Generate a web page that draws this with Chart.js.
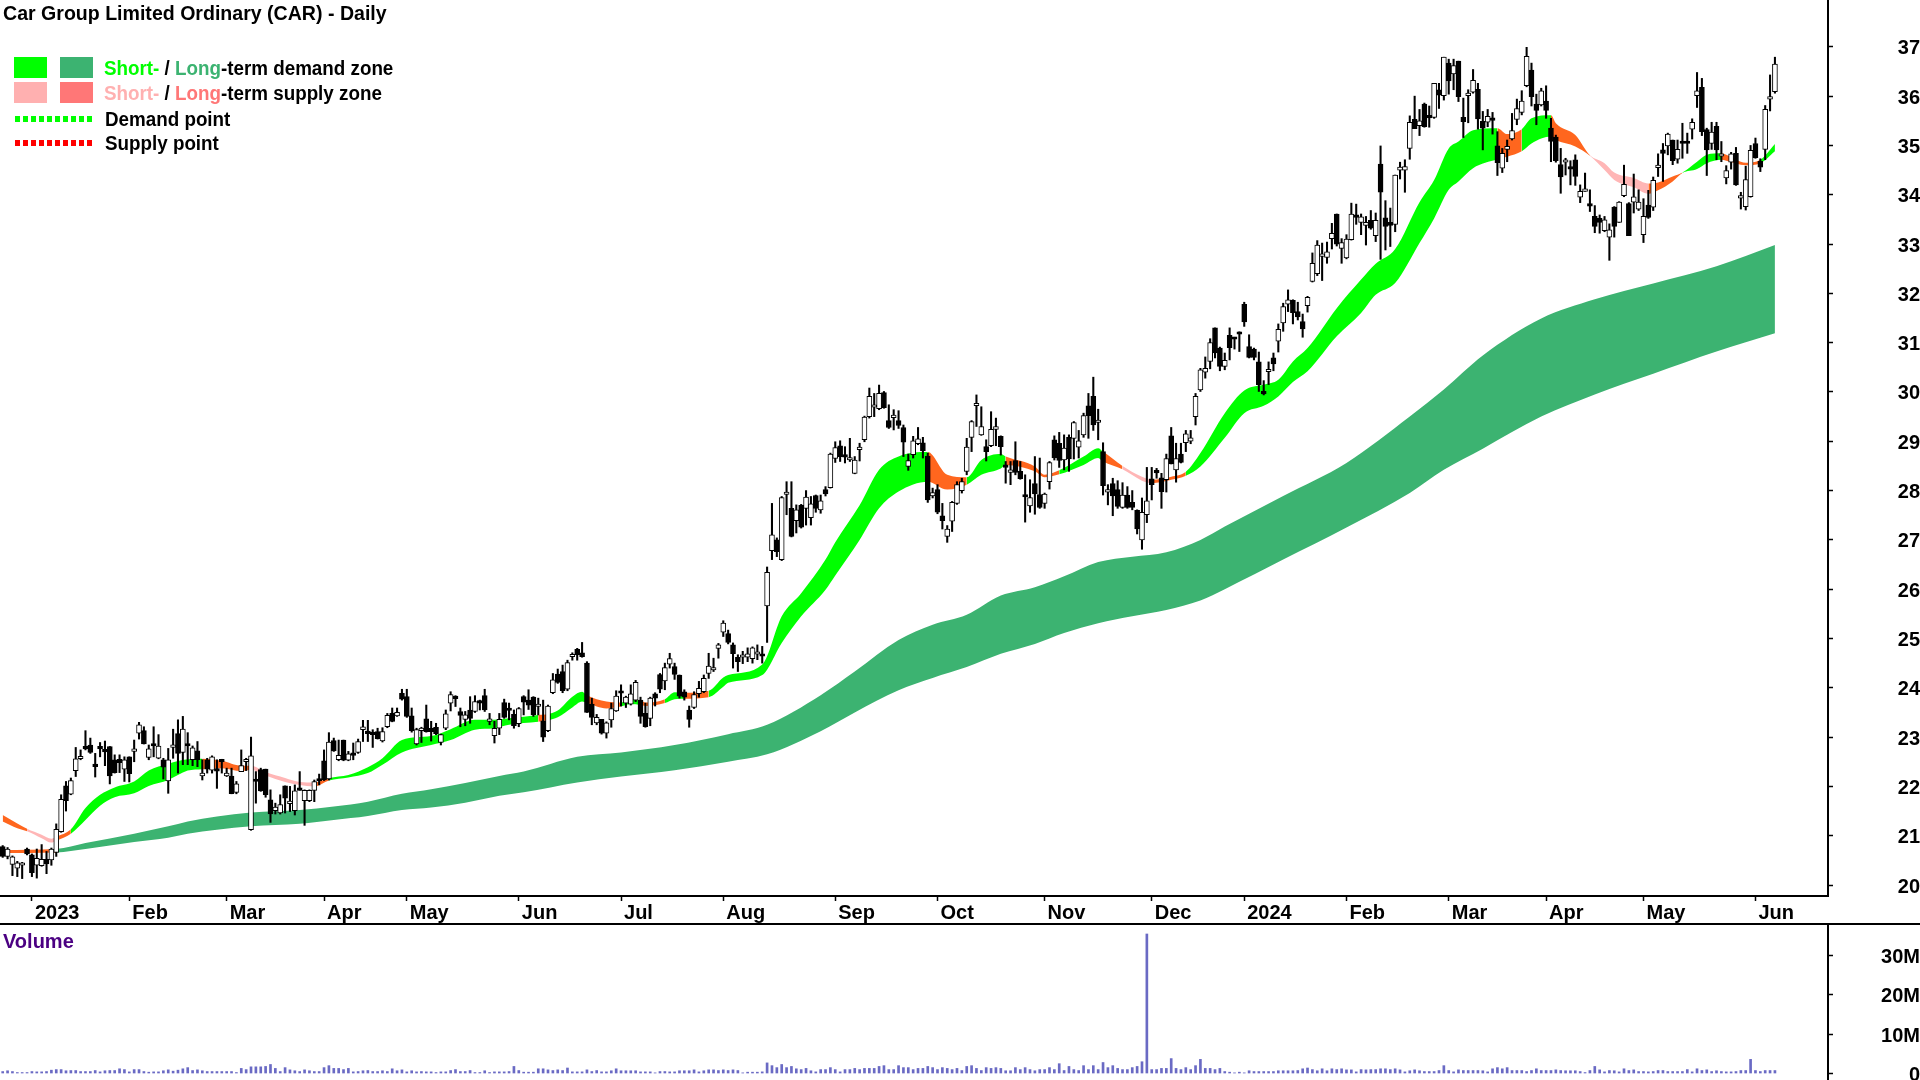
<!DOCTYPE html>
<html lang="en">
<head>
<meta charset="UTF-8">
<title>Car Group Limited Ordinary (CAR) - Daily</title>
<script src="https://cdn.jsdelivr.net/npm/chart.js"></script>
<style>
  html, body { margin: 0; padding: 0; background: #fff; }
  body { width: 1920px; height: 1080px; position: relative; overflow: hidden; font-family: "Liberation Sans", Arial, sans-serif; font-weight: bold; color: #000; }
  canvas { position: absolute; left: 0; display: block; }
  #priceChart { top: 0; }
  #volumeChart { top: 924px; }
  #rule { position: absolute; left: 0; top: 923px; width: 1920px; height: 2px; background: #000; }
  .txt { position: absolute; font-size: 20px; line-height: 24px; white-space: nowrap; transform-origin: left center; }
  .leg { transform: scaleX(.94); }
  .swatch { position: absolute; width: 33px; height: 21px; }
  .dots { position: absolute; left: 15px; width: 78px; height: 6px; }
</style>
</head>
<body>
<canvas id="priceChart" width="1920" height="924"></canvas>
<canvas id="volumeChart" width="1920" height="156"></canvas>
<div id="rule"></div>

<div class="txt" style="left:3px;top:1px;transform:scaleX(.978)">Car Group Limited Ordinary (CAR) - Daily</div>

<!-- Legend -->
<div class="swatch" style="left:14px;top:57px;background:#00ff00"></div>
<div class="swatch" style="left:60px;top:57px;background:#3cb371"></div>
<div class="swatch" style="left:14px;top:82px;background:#ffb0b0"></div>
<div class="swatch" style="left:60px;top:82px;background:#ff7777"></div>
<div class="dots" style="top:116px;background:repeating-linear-gradient(90deg,#00ff00 0 5px,transparent 5px 8px)"></div>
<div class="dots" style="top:140px;background:repeating-linear-gradient(90deg,#ff0000 0 5px,transparent 5px 8px)"></div>
<div class="txt leg" style="left:104px;top:56px"><span style="color:#00ff00">Short-</span> / <span style="color:#3cb371">Long</span>-term demand zone</div>
<div class="txt leg" style="left:104px;top:81px"><span style="color:#ffb0b0">Short-</span> / <span style="color:#ff7777">Long</span>-term supply zone</div>
<div class="txt leg" style="left:105px;top:107px">Demand point</div>
<div class="txt leg" style="left:105px;top:131px">Supply point</div>

<div class="txt" style="left:3px;top:929px;color:#4b0082">Volume</div>

<script>
  const opens = [
    20.78,20.58,20.42,20.34,20.40,20.73,20.61,20.40,20.39,20.52,
    20.51,20.66,21.08,22.01,21.84,22.32,22.56,22.80,22.84,22.42,
    22.78,22.72,22.81,22.54,22.55,22.35,22.60,22.71,23.08,23.13,
    22.59,22.86,22.57,22.54,22.11,22.79,23.07,22.69,22.84,22.54,
    22.72,22.21,22.54,22.33,22.34,22.52,22.21,22.21,21.88,22.30,
    22.50,21.12,22.12,22.34,22.35,21.73,21.51,21.46,22.01,21.65,
    21.51,21.94,21.71,21.71,21.92,22.13,22.52,22.15,22.93,22.54,
    22.94,22.53,22.65,22.69,23.15,23.08,23.07,23.11,22.92,23.21,
    23.48,23.43,23.89,23.82,23.43,22.86,23.13,23.37,23.18,23.20,
    22.89,23.18,23.69,23.80,23.52,23.36,23.55,23.52,23.72,23.84,
    23.32,23.03,23.18,23.70,23.55,23.46,23.27,23.82,23.75,23.81,
    23.62,23.33,23.13,23.90,24.28,24.33,23.97,24.63,24.78,24.71,
    24.50,23.67,23.29,23.36,23.08,23.35,23.53,23.91,23.69,23.67,
    23.75,23.75,23.48,23.38,23.88,24.27,24.14,24.48,24.43,24.26,
    23.92,23.55,23.60,23.88,23.92,24.29,24.36,24.80,25.13,25.10,
    24.87,24.62,24.62,24.62,24.59,24.68,24.66,25.66,26.78,27.00,
    26.60,27.92,27.64,27.39,27.70,27.64,27.45,27.90,27.61,28.02,
    28.06,28.65,28.91,28.70,28.62,28.35,28.83,29.03,29.50,29.69,
    29.66,29.99,29.42,29.48,29.42,29.28,28.49,28.73,28.95,28.97,
    28.70,27.89,28.02,27.49,27.07,27.38,27.74,28.00,28.39,29.08,
    29.72,29.13,28.89,28.91,29.24,29.10,28.49,28.37,28.61,28.39,
    27.91,27.69,28.14,27.92,27.74,28.18,29.03,28.96,28.62,29.08,
    29.06,28.88,29.13,29.72,29.91,29.38,28.79,27.97,28.14,28.02,
    27.66,27.91,27.76,27.60,27.00,27.51,28.24,28.38,28.26,28.22,
    29.11,28.42,28.74,28.97,29.00,29.50,30.04,30.40,30.62,31.30,
    30.89,30.52,31.15,31.11,31.21,31.78,30.92,30.87,30.61,29.99,
    30.41,30.69,31.03,31.40,31.78,31.86,31.63,31.43,31.75,32.24,
    32.40,32.75,32.73,33.11,33.61,32.91,32.72,33.09,33.56,33.44,
    33.38,33.48,33.17,34.62,33.53,33.44,33.40,34.50,34.50,34.94,
    35.53,35.40,35.84,35.57,35.57,36.13,36.01,36.67,36.45,36.71,
    35.57,36.01,36.08,36.14,35.49,35.47,35.53,34.99,34.54,34.92,
    35.13,35.53,35.67,36.21,36.53,35.84,35.82,35.90,35.35,35.17,
    34.61,34.66,34.56,34.71,33.95,34.07,33.78,33.56,33.52,33.27,
    33.14,33.75,33.44,33.98,33.82,33.85,33.71,33.19,33.79,33.75,
    34.55,34.91,34.99,35.11,34.72,35.06,35.06,35.33,36.01,36.18,
    35.32,35.04,35.39,34.78,34.34,34.66,34.84,33.93,33.76,33.96,
    35.04,34.68,34.92,35.94,36.09
  ];
  const highs = [
    20.80,20.76,20.59,20.48,20.46,20.75,20.63,20.73,20.82,20.68,
    20.75,21.24,21.83,22.10,22.17,22.79,22.74,23.13,22.98,22.67,
    22.89,22.92,22.81,22.64,22.64,22.60,22.60,22.94,23.30,23.21,
    22.84,23.21,23.05,22.57,22.77,23.16,23.35,23.42,23.09,22.82,
    22.91,22.54,22.57,22.62,22.54,22.55,22.37,22.37,22.10,22.74,
    22.57,23.00,22.30,22.37,22.35,21.93,21.66,21.83,22.01,22.00,
    22.03,22.30,21.93,21.93,22.13,22.25,22.74,23.09,22.98,22.94,
    22.94,22.71,22.88,22.96,23.34,23.34,23.15,23.18,23.19,23.48,
    23.59,23.59,23.97,23.97,23.59,23.18,23.20,23.65,23.32,23.28,
    23.06,23.55,23.92,23.84,23.59,23.52,23.82,23.84,23.75,23.97,
    23.48,23.32,23.48,23.77,23.69,23.55,23.60,23.84,23.96,23.82,
    23.79,23.75,23.65,24.29,24.38,24.46,24.56,24.71,24.80,24.92,
    24.53,23.79,23.46,23.36,23.31,23.69,23.94,24.06,23.83,24.06,
    24.15,23.81,23.69,23.81,23.90,24.29,24.50,24.70,24.50,24.26,
    23.96,23.63,23.92,24.13,24.26,24.70,24.60,24.90,25.36,25.17,
    24.91,24.67,24.74,24.81,24.83,24.87,24.84,26.45,27.74,27.04,
    27.88,28.18,28.18,27.71,27.72,28.00,27.88,27.91,27.91,28.08,
    28.76,28.99,29.01,28.89,29.06,28.69,28.96,29.51,30.08,29.97,
    30.14,30.01,29.74,29.64,29.62,29.33,28.74,29.10,29.28,29.08,
    28.76,28.05,28.12,27.74,27.29,27.78,28.18,28.25,29.06,29.42,
    29.94,29.70,29.03,29.60,29.47,29.11,28.59,28.59,28.99,28.59,
    28.32,28.22,28.69,28.66,27.95,28.59,29.11,29.18,29.13,29.13,
    29.40,29.22,29.57,29.97,30.30,29.65,28.97,28.12,28.25,28.20,
    28.16,28.08,28.00,27.61,27.85,28.47,28.47,28.45,28.35,28.74,
    29.28,28.96,28.96,29.22,29.22,29.97,30.48,30.71,31.08,31.30,
    30.91,30.79,31.30,31.11,31.22,31.82,31.16,30.89,30.81,30.23,
    30.61,30.79,31.38,31.80,32.07,31.87,31.82,31.58,31.94,32.82,
    33.07,33.02,33.04,33.42,33.61,33.11,33.19,33.83,33.81,33.61,
    33.56,33.68,33.63,34.99,33.88,33.73,34.40,34.66,34.71,35.60,
    36.00,35.73,35.86,35.80,36.26,36.26,36.79,36.75,36.75,36.71,
    35.96,36.13,36.54,36.26,35.69,35.73,35.67,35.28,34.94,35.11,
    35.65,35.94,36.11,36.99,36.67,36.04,36.16,36.21,35.55,35.21,
    34.94,34.74,34.69,34.81,34.20,34.44,34.10,33.78,33.59,33.56,
    33.41,33.76,33.86,34.60,33.84,34.42,34.10,33.92,34.09,34.36,
    34.83,35.04,35.25,35.11,35.11,35.45,35.25,35.54,36.48,36.36,
    35.35,35.47,35.47,35.08,34.59,34.86,34.96,34.05,34.58,35.00,
    35.15,34.73,35.81,36.43,36.79
  ];
  const lows = [
    20.56,20.53,20.19,20.17,20.13,20.61,20.17,20.14,20.38,20.23,
    20.40,20.58,21.07,21.50,21.83,22.20,22.54,22.74,22.67,22.19,
    22.60,22.42,22.05,22.27,22.28,22.10,22.09,22.50,22.96,22.86,
    22.54,22.60,22.56,22.15,21.86,22.57,22.27,22.44,22.44,22.42,
    22.40,22.13,22.27,22.27,21.96,22.27,22.20,21.85,21.85,22.30,
    22.32,21.11,21.66,21.90,21.78,21.27,21.44,21.44,21.46,21.49,
    21.42,21.92,21.21,21.69,21.69,22.03,22.12,22.13,22.71,22.52,
    22.52,22.52,22.54,22.67,22.91,22.91,22.79,22.96,22.90,23.19,
    23.31,23.42,23.75,23.40,23.10,22.84,22.89,23.10,22.92,23.05,
    22.84,23.15,23.53,23.62,23.21,23.23,23.28,23.50,23.55,23.52,
    23.25,22.88,23.05,23.38,23.35,23.18,23.21,23.45,23.56,23.42,
    23.45,22.91,23.11,23.88,24.09,23.90,23.94,24.56,24.56,24.62,
    23.50,23.25,23.25,23.06,22.98,23.20,23.52,23.63,23.60,23.65,
    23.72,23.28,23.20,23.23,23.63,23.90,23.96,24.40,24.17,23.79,
    23.75,23.20,23.58,23.81,23.90,24.19,24.33,24.60,25.04,24.89,
    24.40,24.33,24.49,24.53,24.50,24.57,24.50,24.92,26.60,26.66,
    26.58,27.51,27.06,27.14,27.24,27.30,27.30,27.56,27.54,27.89,
    28.05,28.57,28.59,28.56,28.59,28.34,28.60,28.99,29.47,29.50,
    29.64,29.67,29.26,29.23,29.26,28.69,28.41,28.66,28.93,28.66,
    27.76,27.85,27.53,27.22,26.95,27.17,27.72,27.95,28.32,28.79,
    29.30,29.12,28.60,28.89,28.91,28.72,28.15,28.12,28.32,28.23,
    27.36,27.56,27.52,27.64,27.64,28.03,28.62,28.47,28.42,28.39,
    28.64,28.66,29.08,29.06,29.22,29.03,27.91,27.71,27.49,27.64,
    27.64,27.64,27.61,27.12,26.81,27.35,27.81,28.25,27.64,27.97,
    28.54,28.17,28.56,28.79,28.95,29.33,30.01,30.28,30.47,30.69,
    30.43,30.45,30.65,30.87,30.82,31.33,30.69,30.65,30.01,29.94,
    30.15,30.43,30.81,31.23,31.63,31.38,31.46,31.11,31.62,32.23,
    32.36,32.26,32.61,32.90,32.96,32.61,32.70,33.08,33.40,33.19,
    32.98,33.30,33.05,32.69,32.88,32.95,33.25,34.32,34.05,34.72,
    35.34,35.20,35.37,35.37,35.55,35.75,35.92,36.04,36.13,35.89,
    35.16,35.46,36.06,35.33,34.91,35.38,35.23,34.39,34.45,34.67,
    35.11,35.42,35.62,36.19,35.80,35.42,35.80,35.55,34.67,34.66,
    34.03,34.40,34.20,34.19,33.84,34.07,33.66,33.23,33.22,33.25,
    32.67,33.14,33.44,33.96,33.17,33.63,33.68,33.03,33.52,33.68,
    34.37,34.27,34.81,34.61,34.64,34.74,34.84,35.13,35.77,35.20,
    34.39,34.92,34.71,34.67,34.22,34.52,34.19,33.71,33.69,33.95,
    34.74,34.47,34.71,35.70,36.06
  ];
  const closes = [
    20.58,20.73,20.57,20.45,20.44,20.63,20.25,20.54,20.52,20.43,
    20.73,21.13,21.74,21.71,22.12,22.56,22.60,22.76,22.69,22.40,
    22.76,22.70,22.21,22.28,22.48,22.54,22.26,22.73,23.25,22.86,
    22.76,22.82,22.82,22.39,22.54,22.81,22.67,23.16,22.82,22.78,
    22.54,22.27,22.35,22.60,22.31,22.50,22.27,21.85,22.05,22.42,
    22.52,22.62,22.10,21.91,21.83,21.44,21.58,21.63,21.76,21.69,
    21.91,21.92,21.92,21.92,22.10,22.11,22.13,22.90,22.72,22.63,
    22.53,22.66,22.63,22.91,23.21,23.07,23.05,22.97,23.11,23.44,
    23.32,23.50,23.77,23.42,23.13,23.15,23.18,23.11,23.11,23.07,
    23.05,23.47,23.86,23.78,23.44,23.45,23.38,23.72,23.69,23.55,
    23.36,23.18,23.36,23.40,23.54,23.23,23.58,23.71,23.65,23.45,
    23.67,23.00,23.63,24.16,24.11,23.94,24.51,24.68,24.67,24.63,
    23.50,23.40,23.40,23.08,23.29,23.58,23.83,23.89,23.81,23.88,
    24.11,23.42,23.21,23.79,23.79,23.97,24.41,24.59,24.27,23.83,
    23.81,23.36,23.86,23.99,24.19,24.44,24.41,24.87,25.31,24.92,
    24.69,24.53,24.66,24.69,24.81,24.72,24.64,26.34,27.10,26.76,
    27.86,27.95,27.07,27.61,27.26,27.87,27.73,27.64,27.79,27.93,
    28.74,28.87,28.69,28.68,28.66,28.62,28.85,29.49,29.91,29.74,
    29.97,29.68,29.28,29.52,29.32,28.98,28.61,29.01,29.05,28.81,
    27.81,27.96,27.56,27.39,27.22,27.76,28.12,28.18,28.88,29.40,
    29.74,29.30,28.79,29.24,29.30,28.89,28.47,28.42,28.37,28.24,
    27.87,27.86,27.93,27.66,27.93,28.57,28.66,28.61,28.86,28.64,
    29.38,29.01,29.52,29.52,29.33,29.39,28.10,28.02,27.89,27.68,
    27.91,27.66,27.66,27.22,27.56,27.79,28.12,28.36,27.98,28.65,
    28.54,28.65,28.57,29.15,29.07,29.91,30.45,30.48,31.00,30.79,
    30.52,30.64,30.90,31.07,31.17,31.42,30.70,30.70,30.15,29.96,
    30.42,30.57,31.27,31.73,31.87,31.61,31.52,31.28,31.92,32.61,
    32.98,32.76,32.84,33.22,33.00,33.03,33.10,33.61,33.54,33.55,
    33.44,33.32,33.48,34.05,33.36,33.38,34.40,34.56,34.57,35.47,
    35.34,35.50,35.38,35.56,36.26,36.02,36.79,36.31,36.62,35.99,
    35.48,36.02,36.32,35.54,35.35,35.59,35.51,34.65,34.84,34.98,
    35.30,35.75,35.90,36.81,35.99,35.71,36.11,35.71,35.08,34.69,
    34.36,34.68,34.52,34.37,34.07,34.08,33.77,33.36,33.44,33.49,
    33.29,33.36,33.85,34.21,33.17,33.96,33.85,33.56,33.54,34.29,
    34.56,34.84,35.23,34.69,34.92,35.04,35.04,35.47,36.11,35.28,
    34.91,35.27,34.91,34.79,34.49,34.83,34.20,33.98,34.31,34.90,
    34.75,34.56,35.73,35.98,36.65
  ];
  const volumes = [
    .5,.7,.5,.25,.25,.25,.5,.42,.42,.5,.85,1,1,.7,.76,.76,.5,.5,.5,.76,
    .42,.7,.76,.76,1.2,1,.42,1,1,.5,.34,.42,.42,.7,.93,.6,.85,1.2,1.5,.76,
    .93,.7,.5,.5,.5,.5,.5,.5,.25,1.3,1,1.7,1.7,1.7,1.8,2.3,1.3,.5,1.5,.93,
    .7,.5,.93,.7,.5,.5,1.5,2,1.3,1.3,1,1.3,.42,.5,.7,.76,.5,.5,.7,.5,
    1.2,.7,.93,.42,.7,.42,.5,.42,.42,.25,.42,.42,.76,1,.5,.5,.76,.25,.25,.7,
    .25,.42,.42,.42,.5,1.8,.76,
    .34,.34,.34,1.2,1.2,.93,.76,.93,.76,1.4,.42,.42,.42,.93,.5,.76,.42,.42,.7,1.2,
    .7,.7,.7,.7,.42,.42,.42,.17,.5,.5,.42,.42,.7,.7,.7,.93,.42,.7,.93,.93,
    .76,.93,.76,.93,.76,.17,.34,.34,.34,.42,2.7,2,1.5,2.3,1.5,1.8,1.2,1,1.3,.7,
    .42,1,1,1.5,1,.42,1,1,1.3,1,1.3,1.3,1.3,1.8,2,1,1,2,1.5,1.5,
    1,1.3,1.3,1.8,1.5,1,1.5,1.3,1,1.3,.76,1.8,2,1.3,.76,1.5,1.3,1.5,1.3,.7,
    .7,1.5,1,1.5,1,.7,
    1,1,1.5,1,2.5,.76,1.8,1,.76,2,1,2,1,2.8,1.5,2,1.3,1,1,1.5,1.8,3,35.5,
    1,1,1.3,1.3,3.8,1.3,1,1.5,1,2,3.6,1.3,1.3,1,1.3,.5,.34,.17,.34,.17,
    .7,.5,.5,.5,.5,.5,.7,.7,.7,.7,.76,1.2,1.4,1,.7,1.2,.7,1.2,1,1.2,
    .93,.93,.42,1,.93,1,1,1.2,1.2,1,1.2,.93,.42,.7,.93,.7,.5,.5,.5,.76,
    2,.76,.42,.93,.76,.76,.76,.76,.7,.42,1.2,1.5,1.2,1.5,.76,.76,.76,.5,.76,1.2,
    .76,.76,.76,.93,.76,
    .7,.7,.7,.5,.25,.76,1.8,.93,.42,.76,.7,.42,1.2,.76,.93,.5,.5,.42,.5,.76,
    .76,.5,.5,.5,.5,1,.42,1.2,.76,.93,.5,.7,.5,.42,.42,.5,.76,.76,3.6,.76,
    .5,.76,.76,.76
  ];

  const priceTicks = [20,21,22,23,24,25,26,27,28,29,30,31,32,33,34,35,36,37];
  const volumeTicks = [0,10,20,30];
  const monthBars = [6,26,46,66,83,106,127,148,171,192,214,236,255,276,297,317,337,360];
  const monthLabels = ['2023','Feb','Mar','Apr','May','Jun','Jul','Aug','Sep','Oct','Nov','Dec','2024','Feb','Mar','Apr','May','Jun'];

  // long-term zone, read at these bars
  const longBars   = [0,11,17,27,34,38,44,51,61,68,75,82,88,95,102,107,118,127,138,149,157,168,175,184,191,198,205,212,218,225,232,239,246,251,263,276,289,296,304,316,327,339,352,364];
  const longTop    = [20.71,20.73,20.85,21.04,21.19,21.29,21.39,21.47,21.52,21.59,21.69,21.85,21.94,22.07,22.21,22.30,22.60,22.69,22.84,23.06,23.25,23.85,24.33,24.97,25.28,25.48,25.87,26.04,26.26,26.55,26.66,26.75,27.00,27.27,27.89,28.56,29.50,30.05,30.74,31.49,31.88,32.20,32.55,32.98];
  const longBottom = [20.65,20.66,20.73,20.87,20.96,21.04,21.12,21.19,21.24,21.32,21.40,21.52,21.57,21.67,21.81,21.88,22.08,22.20,22.33,22.50,22.65,23.12,23.50,23.95,24.20,24.42,24.69,24.89,25.11,25.31,25.45,25.58,25.77,26.00,26.60,27.25,27.95,28.42,28.85,29.50,29.95,30.37,30.82,31.19];
  const longState  = ['o','g','g','g','g','g','g','g','g','g','g','g','g','g','g','g','g','g','g','g','g','g','g','g','g','g','g','g','g','g','g','g','g','g','g','g','g','g','g','g','g','g','g','g'];

  // short-term zone, read at these bars
  const shortBars   = [0,3,5,8,10,11,14,17,20,23,27,30,34,38,41,45,49,51,54,58,61,64,67,71,75,78,82,88,92,97,101,104,110,112,114,117,119,120,124,127,129,131,132,136,138,140,145,148,149,156,160,164,169,171,176,180,184,190,194,198,201,205,206,212,214,217,222,225,226,230,234,236,240,243,246,251,255,259,262,265,268,274,279,282,286,291,294,297,299,302,307,309,312,314,318,319,323,326,329,331,335,338,340,343,345,348,350,353,354,358,361,364];
  const shortTop    = [21.42,21.25,21.14,21.02,20.94,20.98,21.13,21.56,21.83,21.98,22.10,22.32,22.46,22.55,22.56,22.52,22.42,22.42,22.29,22.17,22.09,22.08,22.17,22.23,22.39,22.57,22.94,23.02,23.16,23.35,23.35,23.38,23.45,23.47,23.54,23.82,23.92,23.85,23.72,23.70,23.75,23.74,23.70,23.77,23.91,23.90,23.94,24.21,24.26,24.47,25.45,25.92,26.60,26.95,27.70,28.42,28.69,28.78,28.32,28.27,28.62,28.74,28.69,28.49,28.32,28.41,28.69,28.86,28.79,28.50,28.28,28.22,28.28,28.38,28.76,29.57,30.03,30.15,30.25,30.62,30.89,31.70,32.28,32.60,32.90,33.85,34.30,34.94,35.08,35.31,35.35,35.23,35.33,35.55,35.61,35.45,35.21,34.80,34.64,34.45,34.34,34.23,34.25,34.37,34.45,34.67,34.81,34.84,34.81,34.65,34.71,35.03];
  const shortBottom = [21.29,21.15,21.09,20.95,20.86,20.90,21.04,21.32,21.61,21.78,21.86,22.01,22.13,22.32,22.35,22.37,22.31,22.34,22.22,22.09,22.03,22.00,22.12,22.18,22.27,22.44,22.69,22.84,22.94,23.15,23.18,23.25,23.31,23.34,23.40,23.60,23.72,23.69,23.58,23.62,23.67,23.65,23.63,23.69,23.77,23.78,23.81,24.02,24.10,24.26,24.91,25.45,25.99,26.28,27.00,27.64,27.98,28.18,28.02,28.12,28.32,28.45,28.52,28.39,28.27,28.33,28.52,28.66,28.59,28.43,28.20,28.15,28.22,28.30,28.49,29.07,29.57,29.72,29.91,30.20,30.42,31.13,31.60,31.97,32.21,33.02,33.52,34.10,34.27,34.54,34.72,34.77,34.88,35.04,35.18,35.11,34.98,34.79,34.50,34.30,34.15,34.02,34.09,34.27,34.44,34.52,34.64,34.71,34.69,34.60,34.64,34.88];
  const shortState  = ['o','o','p','p','p','o','g','g','g','g','g','g','g','g','o','o','o','p','p','p','p','o','g','g','g','g','g','g','g','g','g','g','o','g','g','g','g','o','o','g','g','o','o','g','g','o','g','g','g','g','g','g','g','g','g','g','g','o','o','g','g','g','o','o','o','g','g','g','o','p','p','o','o','g','g','g','g','g','g','g','g','g','g','g','g','g','g','g','g','g','o','o','g','g','o','o','o','p','p','p','p','o','o','o','g','g','g','o','o','o','g','g'];

  const stateColors = { g: '#00ff00', o: '#ff661e', p: '#ffb6b6' };
  const longColors = { g: '#3cb371', o: '#ff661e' };

  const barIndex = opens.map((_, i) => i);
  const tickFont = { family: '"Liberation Sans", Arial, sans-serif', size: 20, weight: 'bold' };

  function zoneLine(bars, values, extra) {
    return Object.assign({
      type: 'line',
      data: bars.map((b, i) => ({ x: b, y: values[i] })),
      borderColor: 'transparent',
      borderWidth: 0,
      pointRadius: 0,
      cubicInterpolationMode: 'monotone'
    }, extra);
  }

  // keep the plot flush with the canvas edges, whatever the labels want
  function noPadding(scale) {
    scale.paddingTop = scale.paddingBottom = scale.paddingLeft = scale.paddingRight = 0;
  }

  new Chart(document.getElementById('priceChart'), {
    type: 'bar',
    data: {
      datasets: [
        zoneLine(longBars, longTop, {
          order: 6,
          fill: 1,
          backgroundColor: longColors.g,
          segment: { backgroundColor: ctx => longColors[longState[ctx.p0DataIndex]] }
        }),
        zoneLine(longBars, longBottom, { order: 7, fill: false }),
        zoneLine(shortBars, shortTop, {
          order: 4,
          fill: 3,
          backgroundColor: stateColors.g,
          segment: { backgroundColor: ctx => stateColors[shortState[ctx.p0DataIndex]] }
        }),
        zoneLine(shortBars, shortBottom, { order: 5, fill: false }),
        {
          // wicks
          order: 2,
          grouped: false,
          barThickness: 1.4,
          backgroundColor: '#000',
          data: barIndex.map(i => ({ x: i, y: [lows[i], highs[i]] }))
        },
        {
          // candle bodies
          order: 1,
          grouped: false,
          barThickness: 5,
          minBarLength: 2.5,
          borderColor: '#000',
          borderWidth: 1,
          borderSkipped: false,
          backgroundColor: barIndex.map(i => closes[i] >= opens[i] ? '#fff' : '#000'),
          data: barIndex.map(i => ({ x: i, y: [opens[i], closes[i]] }))
        }
      ]
    },
    options: {
      responsive: false,
      animation: false,
      layout: { padding: 0 },
      plugins: { legend: { display: false }, tooltip: { enabled: false } },
      scales: {
        x: {
          type: 'linear',
          offset: false,
          min: -0.555,
          max: 374.9,
          afterBuildTicks: s => { s.ticks = monthBars.map(v => ({ value: v })); },
          afterFit: s => { s.height = 28; noPadding(s); },
          border: { color: '#000', width: 2 },
          grid: { offset: false, drawOnChartArea: false, drawTicks: true, tickLength: 5, tickColor: '#000', tickWidth: 1.5 },
          ticks: {
            autoSkip: false, maxRotation: 0, minRotation: 0, align: 'start', labelOffset: 3, padding: 0,
            color: '#000', font: tickFont,
            callback: (v, i) => monthLabels[i]
          }
        },
        y: {
          position: 'right',
          min: 19.777,
          max: 37.95,
          afterBuildTicks: s => { s.ticks = priceTicks.map(v => ({ value: v })); },
          afterFit: s => { s.width = 92; noPadding(s); },
          border: { color: '#000', width: 2 },
          grid: { drawOnChartArea: false, drawTicks: true, tickLength: 5, tickColor: '#000', tickWidth: 1.5 },
          ticks: { crossAlign: 'far', padding: 61, labelOffset: 2, color: '#000', font: tickFont, callback: v => String(v) }
        }
      }
    }
  });

  new Chart(document.getElementById('volumeChart'), {
    type: 'bar',
    data: {
      datasets: [{
        barThickness: 2,
        backgroundColor: '#6a6ac4',
        data: volumes.map((v, i) => ({ x: i, y: v }))
      }]
    },
    options: {
      responsive: false,
      animation: false,
      layout: { padding: 0 },
      plugins: { legend: { display: false }, tooltip: { enabled: false } },
      scales: {
        x: { type: 'linear', display: false, offset: false, min: -0.555, max: 374.9 },
        y: {
          position: 'right',
          min: -1.65,
          max: 38.04,
          afterBuildTicks: s => { s.ticks = volumeTicks.map(v => ({ value: v })); },
          afterFit: s => { s.width = 92; noPadding(s); },
          border: { color: '#000', width: 2 },
          grid: { drawOnChartArea: false, drawTicks: true, tickLength: 5, tickColor: '#000', tickWidth: 1.5 },
          ticks: { crossAlign: 'far', padding: 44, labelOffset: 2, color: '#000', font: tickFont, callback: v => v === 0 ? '0' : v + 'M' }
        }
      }
    }
  });
</script>
</body>
</html>
